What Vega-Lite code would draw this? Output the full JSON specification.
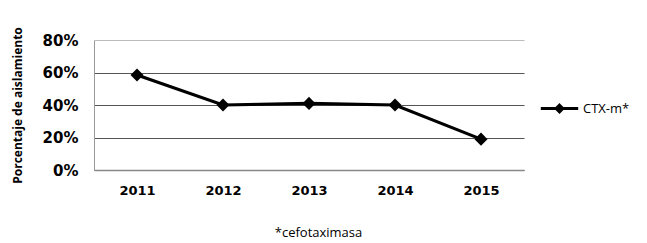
{
  "$schema": "https://vega.github.io/schema/vega-lite/v6.json",
  "width": 430,
  "height": 130,
  "autosize": {"type": "none"},
  "padding": {"left": 94, "top": 40, "right": 123, "bottom": 73},
  "background": "white",
  "config": {
    "view": {"stroke": null},
    "font": "Open Sans"
  },
  "data": {
    "values": [
      {"year": "2011", "pct": 0.585, "series": "CTX-m*"},
      {"year": "2012", "pct": 0.40, "series": "CTX-m*"},
      {"year": "2013", "pct": 0.41, "series": "CTX-m*"},
      {"year": "2014", "pct": 0.40, "series": "CTX-m*"},
      {"year": "2015", "pct": 0.19, "series": "CTX-m*"}
    ]
  },
  "mark": {
    "type": "line",
    "strokeWidth": 3.2,
    "point": {"shape": "diamond", "size": 170, "filled": true, "color": "black", "opacity": 1}
  },
  "encoding": {
    "x": {
      "field": "year",
      "type": "ordinal",
      "scale": {"type": "point", "padding": 0.5},
      "axis": {
        "title": "*cefotaximasa",
        "titleFont": "Open Sans",
        "titleFontSize": 13,
        "titleFontWeight": "normal",
        "titleColor": "black",
        "titlePadding": 29,
        "titleX": 224,
        "labelAngle": 0,
        "labelFont": "DejaVu Sans",
        "labelFontSize": 13,
        "labelFontWeight": "bold",
        "labelColor": "black",
        "labelPadding": 14,
        "ticks": false,
        "domainColor": "#888",
        "domainWidth": 1.5,
        "grid": false
      }
    },
    "y": {
      "field": "pct",
      "type": "quantitative",
      "scale": {"domain": [0, 0.8], "nice": false},
      "axis": {
        "title": "Porcentaje de aislamiento",
        "titleFontSize": 12,
        "titleFontWeight": "bold",
        "titleColor": "black",
        "titlePadding": 18,
        "values": [0, 0.2, 0.4, 0.6, 0.8],
        "format": ".0%",
        "labelFont": "DejaVu Sans",
        "labelFontSize": 15,
        "labelFontWeight": "bold",
        "labelColor": "black",
        "labelPadding": 16,
        "ticks": false,
        "domainColor": "#999",
        "grid": true,
        "gridColor": {"condition": {"test": "datum.value >= 0.79", "value": "#bbb"}, "value": "#555"},
        "gridWidth": 1.2
      }
    },
    "color": {
      "field": "series",
      "type": "nominal",
      "scale": {"range": ["black"]},
      "legend": {
        "title": null,
        "orient": "none",
        "legendX": 445,
        "legendY": 48,
        "symbolType": "M-1,0H1M0,-0.17L0.17,0L0,0.17L-0.17,0Z",
        "symbolSize": 1400,
        "symbolStrokeWidth": 3.2,
        "symbolFillColor": "black",
        "symbolStrokeColor": "black",
        "labelFontSize": 13,
        "labelColor": "black",
        "labelOffset": 3
      }
    }
  }
}
